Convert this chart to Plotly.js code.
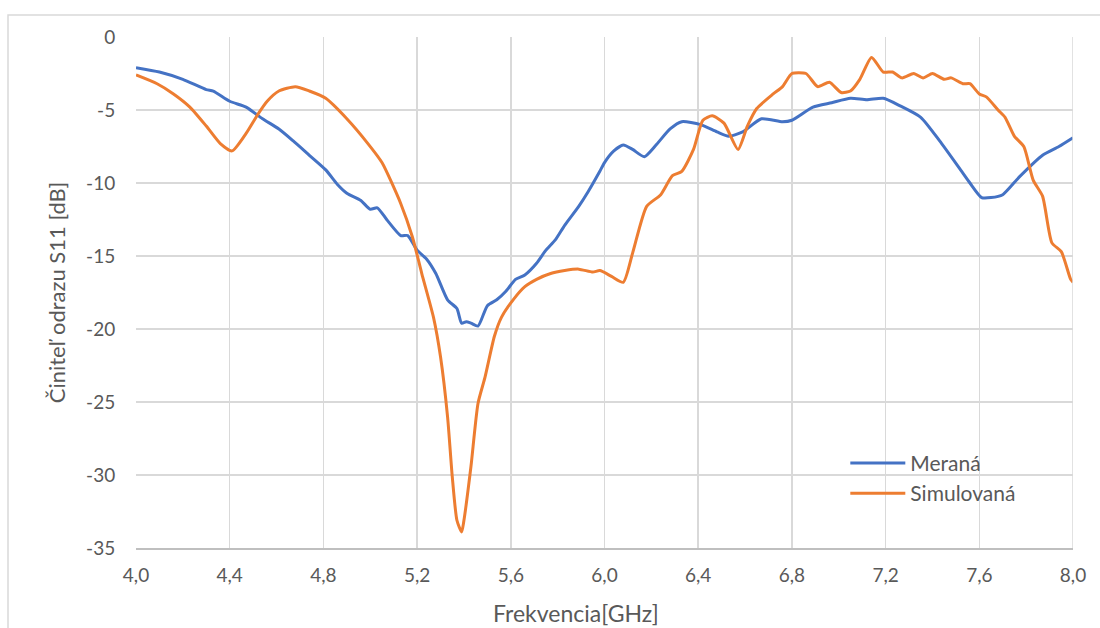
<!DOCTYPE html>
<html>
<head>
<meta charset="utf-8">
<script src="https://cdn.plot.ly/plotly-3.0.1.min.js"></script>
<style>html,body{margin:0;padding:0;background:#fff;}#chart{width:1100px;height:628px;}</style>
</head>
<body>
<div id="chart"></div>
<script>
// Meraná (measured)
var measFreq = [4.00,4.10,4.20,4.30,4.33,4.40,4.47,4.54,4.61,4.67,4.74,4.81,4.86,4.90,4.96,5.00,5.03,5.07,5.13,5.16,5.20,5.24,5.28,5.33,5.37,5.39,5.41,5.43,5.46,5.50,5.54,5.58,5.62,5.66,5.71,5.75,5.79,5.83,5.89,5.93,5.98,6.00,6.04,6.08,6.12,6.17,6.22,6.28,6.33,6.41,6.48,6.53,6.59,6.67,6.76,6.80,6.89,6.97,7.05,7.12,7.19,7.26,7.35,7.43,7.52,7.56,7.61,7.65,7.70,7.77,7.87,7.94,8.00];
var measS11 = [-2.1,-2.4,-2.9,-3.6,-3.7,-4.4,-4.8,-5.6,-6.3,-7.1,-8.1,-9.1,-10.1,-10.7,-11.2,-11.8,-11.7,-12.5,-13.6,-13.6,-14.6,-15.2,-16.2,-18.0,-18.6,-19.6,-19.5,-19.6,-19.8,-18.4,-18.0,-17.4,-16.6,-16.3,-15.5,-14.6,-13.9,-12.9,-11.6,-10.6,-9.2,-8.6,-7.8,-7.4,-7.7,-8.2,-7.4,-6.3,-5.8,-6.0,-6.5,-6.8,-6.5,-5.6,-5.8,-5.7,-4.8,-4.5,-4.2,-4.3,-4.2,-4.7,-5.5,-7.1,-9.1,-10.0,-11.0,-11.0,-10.8,-9.6,-8.1,-7.5,-6.9];
// Simulovaná (simulated)
var simFreq = [4.00,4.09,4.16,4.23,4.30,4.36,4.41,4.47,4.52,4.56,4.61,4.68,4.74,4.81,4.90,4.99,5.05,5.13,5.18,5.22,5.27,5.30,5.33,5.35,5.37,5.39,5.40,5.43,5.46,5.49,5.53,5.56,5.61,5.66,5.71,5.77,5.83,5.89,5.95,5.98,6.03,6.08,6.12,6.18,6.24,6.29,6.33,6.38,6.42,6.46,6.51,6.57,6.61,6.65,6.72,6.76,6.80,6.86,6.91,6.96,7.01,7.05,7.09,7.14,7.19,7.23,7.27,7.32,7.36,7.40,7.45,7.48,7.53,7.56,7.60,7.63,7.68,7.71,7.75,7.79,7.83,7.87,7.91,7.95,7.99,8.00];
var simS11 = [-2.6,-3.2,-3.9,-4.8,-6.1,-7.3,-7.8,-6.6,-5.3,-4.4,-3.7,-3.4,-3.7,-4.2,-5.6,-7.3,-8.6,-11.4,-13.7,-16.2,-19.2,-21.9,-26.0,-30.1,-33.1,-33.9,-33.1,-29.4,-25.1,-23.3,-20.5,-19.2,-18.0,-17.1,-16.6,-16.2,-16.0,-15.9,-16.1,-16.0,-16.4,-16.8,-14.8,-11.6,-10.8,-9.5,-9.2,-7.7,-5.7,-5.4,-5.9,-7.7,-6.1,-4.9,-3.9,-3.4,-2.5,-2.5,-3.4,-3.1,-3.8,-3.7,-2.9,-1.4,-2.4,-2.4,-2.8,-2.5,-2.8,-2.5,-2.9,-2.8,-3.2,-3.2,-3.9,-4.1,-5.0,-5.5,-6.8,-7.5,-9.8,-10.9,-14.1,-14.7,-16.6,-16.8];

var xTickVals = [4.0,4.4,4.8,5.2,5.6,6.0,6.4,6.8,7.2,7.6,8.0];
var xTickText = ["4,0","4,4","4,8","5,2","5,6","6,0","6,4","6,8","7,2","7,6","8,0"];
var yTickVals = [0,-5,-10,-15,-20,-25,-30,-35];
var yTickText = ["0","-5","-10","-15","-20","-25","-30","-35"];
var xTitle = 'Frekvencia[GHz]';
var yTitle = 'Činiteľ odrazu S11 [dB]';

var FONT = 'Lato, "Open Sans", sans-serif';

var traces = [
  {x: measFreq, y: measS11, name: 'Meraná', type: 'scatter', mode: 'lines',
   line: {color: '#4472C4', width: 3, shape: 'spline', smoothing: 0.6}},
  {x: simFreq, y: simS11, name: 'Simulovaná', type: 'scatter', mode: 'lines',
   line: {color: '#ED7D31', width: 3, shape: 'spline', smoothing: 0.6}}
];

var layout = {
  width: 1100, height: 628,
  margin: {l: 136, r: 27, t: 37, b: 80},
  paper_bgcolor: '#ffffff', plot_bgcolor: '#ffffff',
  font: {family: FONT, size: 19, color: '#595959'},
  showlegend: true,
  legend: {x: 0.757, y: 0.206, xanchor: 'left', yanchor: 'top', bgcolor: 'rgba(0,0,0,0)',
           font: {family: FONT, size: 21, color: '#595959'}, tracegroupgap: 6, itemwidth: 55},
  xaxis: {range: [4, 8], tickvals: xTickVals, ticktext: xTickText,
          showgrid: true, gridcolor: '#d9d9d9', gridwidth: 1.5,
          zeroline: false, showline: true, linecolor: '#bfbfbf', linewidth: 1.5,
          ticks: 'outside', ticklen: 10, tickcolor: 'rgba(0,0,0,0)',
          tickfont: {family: FONT, size: 19, color: '#595959'}},
  yaxis: {range: [-35, 0], tickvals: yTickVals, ticktext: yTickText,
          showgrid: true, gridcolor: '#d9d9d9', gridwidth: 1.5,
          zeroline: false, showline: false,
          ticks: 'outside', ticklen: 16, tickcolor: 'rgba(0,0,0,0)',
          tickfont: {family: FONT, size: 19, color: '#595959'},
          title: {text: yTitle, font: {family: FONT, size: 22, color: '#595959'}, standoff: 14}},
  annotations: [
    {text: xTitle, xref: 'paper', yref: 'paper', x: 0.4696, y: -0.128, xanchor: 'center', yanchor: 'middle',
     showarrow: false, font: {family: FONT, size: 23, color: '#595959'}}
  ],
  shapes: [
    {type: 'line', xref: 'x', yref: 'paper', x0: 8, x1: 8, y0: 0, y1: 1, line: {color: '#d9d9d9', width: 1.5}},
    {type: 'rect', xref: 'paper', yref: 'paper', x0: -0.1366, x1: 1.04, y0: -0.2, y1: 1.043,
     line: {color: '#d9d9d9', width: 1.5}, layer: 'below'}
  ]
};

Plotly.newPlot('chart', traces, layout, {displayModeBar: false, staticPlot: true});
</script>
</body>
</html>
